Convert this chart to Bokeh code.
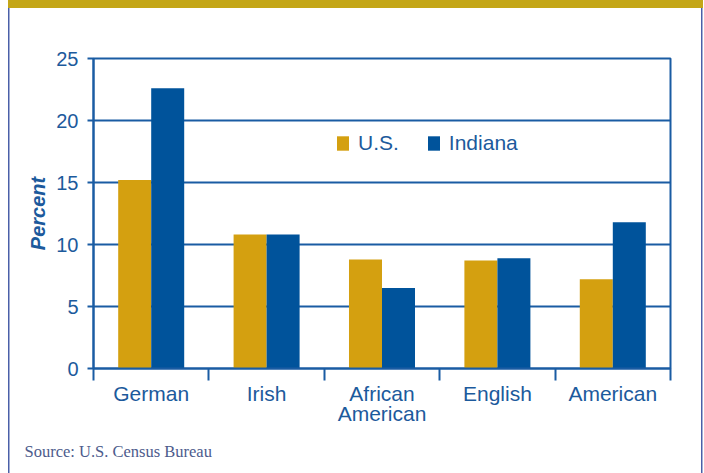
from bokeh.plotting import figure
from bokeh.models import (ColumnDataSource, FixedTicker, Range1d, Legend, LegendItem,
                          Title, InlineStyleSheet)
from bokeh.transform import dodge
from bokeh.embed import file_html
from bokeh.resources import INLINE

categories = ["German", "Irish", "African\nAmerican", "English", "American"]
us_values = [15.2, 10.8, 8.8, 8.7, 7.2]
indiana_values = [22.6, 10.8, 6.5, 8.9, 11.8]
y_ticks = [0, 5, 10, 15, 20, 25]
series_names = ["U.S.", "Indiana"]

GOLD = "#D4A010"
BLUE = "#00539B"
TEXT = "#1C5A9C"
LINE = "#1A5CA3"
FONT = "Liberation Sans"

centers = [i + 0.5 for i in range(len(categories))]
src = ColumnDataSource(dict(x=centers, us=us_values, ind=indiana_values))

p = figure(width=704, height=473, x_range=Range1d(0, len(categories)), y_range=Range1d(0, 25),
           output_backend="svg", toolbar_location=None,
           min_border_left=93, min_border_right=34, min_border_top=58, min_border_bottom=105)
p.background_fill_color = "white"
p.border_fill_color = None
p.outline_line_color = LINE
p.outline_line_width = 2

# page frame: gold band on top, thin blue rules left and right
p.stylesheets = [InlineStyleSheet(css=""":host {
  background:
    linear-gradient(#C4A617, #C4A617) 8px 0 / 695px 8px no-repeat,
    linear-gradient(#4A5FA8, #4A5FA8) 8px 0 / 1.5px 100% no-repeat,
    linear-gradient(#4A5FA8, #4A5FA8) 700.5px 0 / 1.5px 100% no-repeat,
    white;
}""")]

r1 = p.vbar(x=dodge("x", -0.143), top="us", width=0.286, source=src,
            fill_color=GOLD, line_color=None)
r2 = p.vbar(x=dodge("x", 0.143), top="ind", width=0.286, source=src,
            fill_color=BLUE, line_color=None)

# axes
p.xgrid.grid_line_color = None
p.ygrid.grid_line_color = LINE
p.ygrid.grid_line_width = 2
p.ygrid.grid_line_alpha = 1

p.yaxis.ticker = FixedTicker(ticks=y_ticks)
p.yaxis.axis_line_color = LINE
p.yaxis.axis_line_width = 2
p.yaxis.major_tick_line_color = LINE
p.yaxis.major_tick_line_width = 2
p.yaxis.major_tick_out = 6
p.yaxis.major_tick_in = 0
p.yaxis.minor_tick_line_color = None
p.yaxis.major_label_standoff = 9
p.yaxis.major_label_text_font = FONT
p.yaxis.major_label_text_font_size = "20px"
p.yaxis.major_label_text_color = TEXT
p.yaxis.axis_label = "Percent"
p.yaxis.axis_label_text_font = FONT
p.yaxis.axis_label_text_font_style = "bold italic"
p.yaxis.axis_label_text_font_size = "20px"
p.yaxis.axis_label_text_color = TEXT
p.yaxis.axis_label_standoff = 4

p.xaxis.ticker = FixedTicker(ticks=centers, minor_ticks=list(range(len(categories) + 1)))
p.xaxis.major_label_overrides = {c: name for c, name in zip(centers, categories)}
p.xaxis.axis_line_color = LINE
p.xaxis.axis_line_width = 2
p.xaxis.major_tick_line_color = None
p.xaxis.major_tick_out = 0
p.xaxis.major_tick_in = 0
p.xaxis.minor_tick_line_color = LINE
p.xaxis.minor_tick_line_width = 2
p.xaxis.minor_tick_out = 12
p.xaxis.minor_tick_in = 0
p.xaxis.major_label_standoff = 1
p.xaxis.major_label_text_font = FONT
p.xaxis.major_label_text_font_size = "21px"
p.xaxis.major_label_text_color = TEXT
p.xaxis.major_label_text_line_height = 0.9

legend = Legend(items=[LegendItem(label=series_names[0], renderers=[r1]),
                       LegendItem(label=series_names[1], renderers=[r2])],
                orientation="horizontal", location=(242, 213),
                border_line_color=None, background_fill_alpha=0,
                label_text_font=FONT, label_text_font_size="21px", label_text_color=TEXT,
                glyph_width=15, glyph_height=18, label_height=18, label_standoff=8,
                spacing=27, padding=0, margin=0)
p.add_layout(legend)

source_note = Title(text="Source: U.S. Census Bureau", align="left", offset=-69,
                    standoff=23, text_font="Liberation Serif", text_font_style="normal",
                    text_font_size="16.5px", text_color="#4D5B8C", text_line_height=0.8)
p.add_layout(source_note, "below")

open("out.html", "w").write(file_html(p, INLINE))
